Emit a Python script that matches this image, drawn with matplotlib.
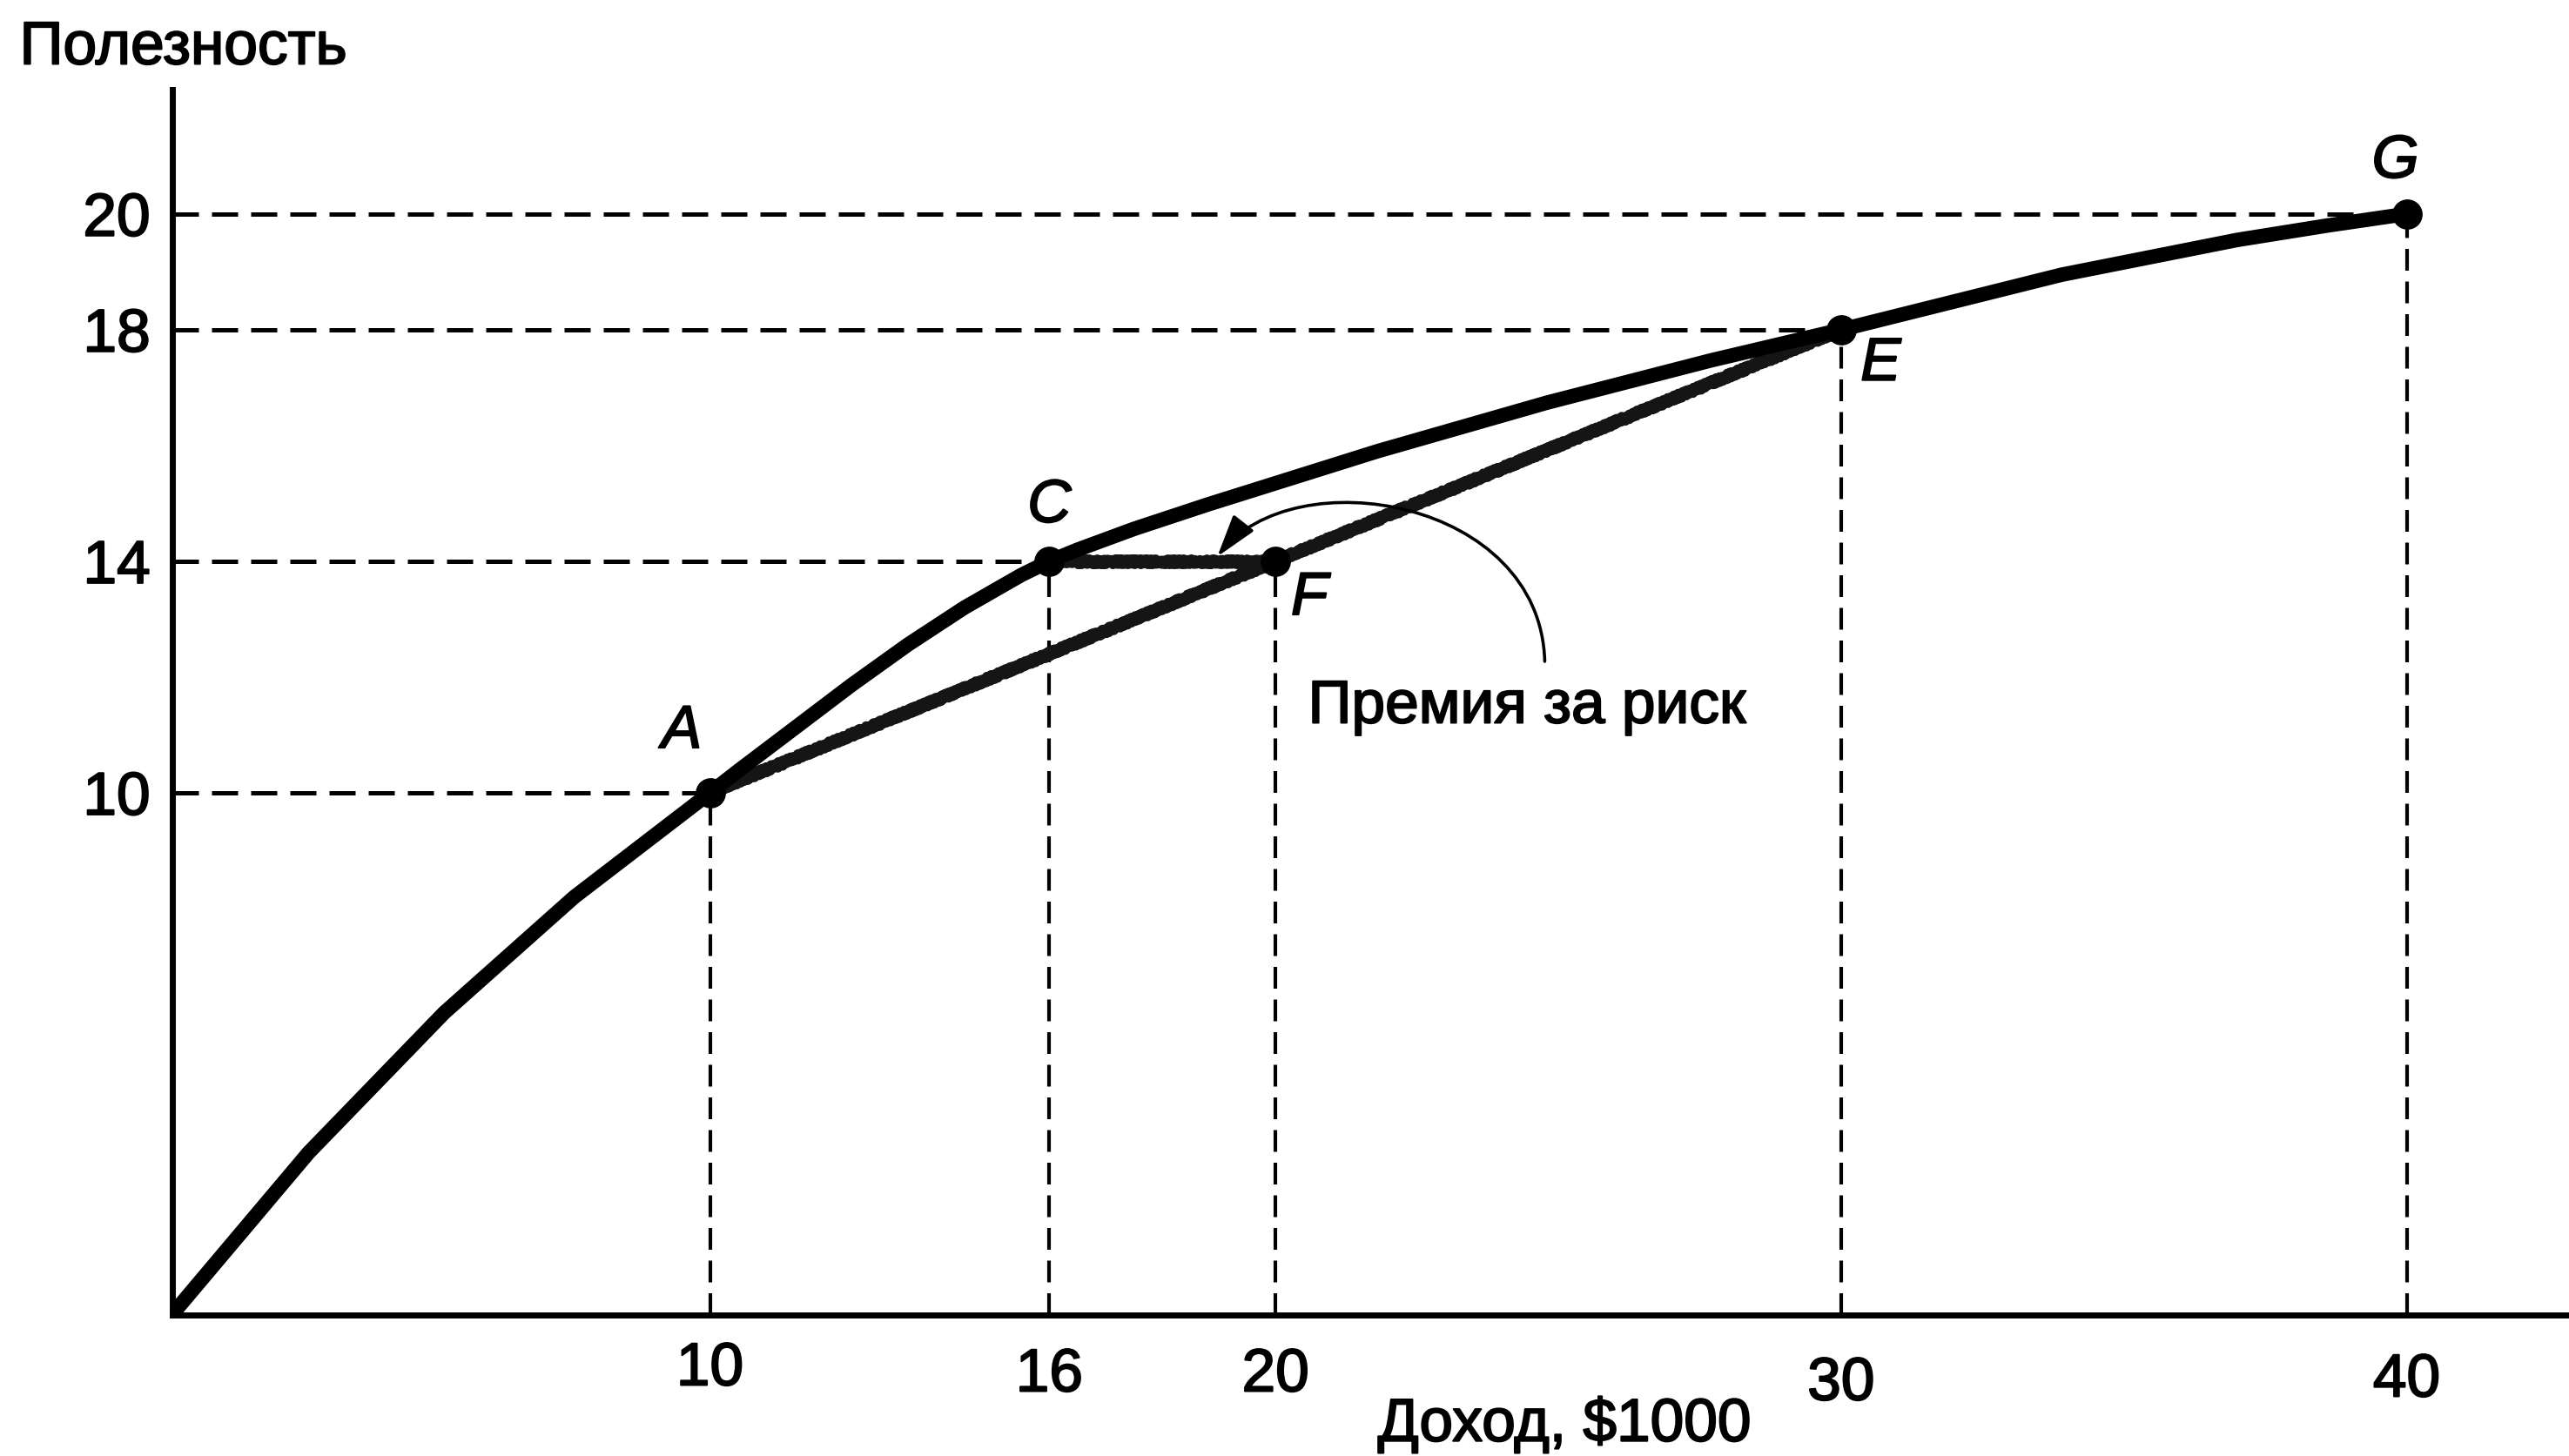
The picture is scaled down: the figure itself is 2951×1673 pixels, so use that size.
import matplotlib
matplotlib.use("Agg")
import matplotlib.pyplot as plt
import matplotlib.patheffects as pe
from matplotlib.path import Path
from matplotlib.patches import FancyArrowPatch
from matplotlib.transforms import ScaledTranslation

# utility curve (income in $1000, utility)
income = [0.5, 2.9, 5.3, 7.6, 10.0, 10.5, 11.5, 12.5, 13.5, 14.5, 15.5, 16.0,
          16.5, 17.5, 18.8, 21.8, 24.8, 27.7, 30.0, 33.9, 37.0, 38.6, 40.0]
utility = [1.0, 3.78, 6.2, 8.2, 10.0, 10.38, 11.12, 11.86, 12.56, 13.2, 13.76, 14.0,
           14.2, 14.56, 14.98, 15.9, 16.74, 17.47, 18.0, 18.95, 19.55, 19.8, 20.0]

# labelled points
point_names = ["A", "C", "E", "F", "G"]
point_x = [10, 16, 30, 20, 40]
point_y = [10, 14, 18, 14, 20]

# chord A-E and the risk premium segment C-F
chord_x = [10, 30]
chord_y = [10, 18]
premium_x = [16, 20]
premium_y = [14, 14]

x_ticks = [10, 16, 20, 30, 40]
y_ticks = [10, 14, 18, 20]

# curved pointer from the note to the C-F segment (start, 2 controls, tip)
arrow_x = [24.76, 24.68, 20.33, 18.97]
arrow_y = [12.27, 15.08, 15.78, 14.08]

FS = 50
plt.rcParams["font.family"] = ["Liberation Sans", "DejaVu Sans"]
# slightly heavier type, like the printed original
heavy = [pe.withStroke(linewidth=1.4, foreground="k")]

fig = plt.figure(figsize=(29.51, 16.74), dpi=100)
ax = fig.add_axes([0.067, 0.0968, 0.933, 0.8412])
ax.set_xlim(0.49, 42.87)
ax.set_ylim(0.98, 22.15)

for s in ["top", "right"]:
    ax.spines[s].set_visible(False)
for s in ["left", "bottom"]:
    ax.spines[s].set_linewidth(5)

dash = (0, (6, 3))
# guide lines from the points to the axes
x0, y0 = ax.get_xlim()[0], ax.get_ylim()[0]
for name, px, py in zip(point_names, point_x, point_y):
    if name != "F":
        ax.plot([x0, px], [py, py], color="k", lw=3.6, ls=dash, zorder=1)
    ax.plot([px, px], [y0, py], color="k", lw=3.0, ls=dash, zorder=1)

# chord A-E, textured look
chord, = ax.plot(chord_x, chord_y, color="#151515", lw=8, zorder=2,
                 solid_capstyle="round")
chord.set_sketch_params(3, 5, 2)
prem, = ax.plot(premium_x, premium_y, color="#151515", lw=8, zorder=2)
prem.set_sketch_params(3, 4, 2)

# utility curve
ax.plot(income, utility, color="k", lw=12, zorder=3,
        solid_capstyle="butt", solid_joinstyle="round")

ax.plot(point_x, point_y, "o", color="k", ms=24, zorder=4)

# point letters (offsets in data units)
label_off = {"A": (-0.5, 1.05), "C": (0.0, 0.95), "E": (0.7, -0.6),
             "F": (0.6, -0.65), "G": (-0.2, 0.9)}
for name, px, py in zip(point_names, point_x, point_y):
    dx, dy = label_off[name]
    ax.text(px + dx, py + dy, name, fontsize=FS, style="italic",
            ha="center", va="center", path_effects=heavy)

ax.set_xticks(x_ticks)
ax.set_yticks(y_ticks)
ax.tick_params(length=0, labelsize=FS)
ax.tick_params(axis="y", pad=18)
ax.tick_params(axis="x", pad=22)
# uneven baselines of the x tick labels in the original
x_lab_shift = [0, -7, -7, -17, -13]
for lbl, sh in zip(ax.get_xticklabels(), x_lab_shift):
    lbl.set_transform(lbl.get_transform() +
                      ScaledTranslation(0, sh / 100, fig.dpi_scale_trans))
    lbl.set_path_effects(heavy)
for lbl in ax.get_yticklabels():
    lbl.set_path_effects(heavy)

# risk premium note with curved arrow
ax.text(24.45, 11.48, "Премия за риск", fontsize=FS, ha="center",
        va="center", path_effects=heavy)
arc = Path(list(zip(arrow_x, arrow_y)),
           [Path.MOVETO, Path.CURVE4, Path.CURVE4, Path.CURVE4])
ax.add_patch(FancyArrowPatch(path=arc,
                             arrowstyle="-|>,head_length=0.75,head_width=0.23",
                             mutation_scale=40, lw=2.6, color="k",
                             shrinkA=0, shrinkB=0, zorder=5))

fig.text(12 / 1568, 1 - 30 / 889, "Полезность", fontsize=FS,
         ha="left", va="center", path_effects=heavy)
fig.text(955 / 1568, 1 - 870 / 889, "Доход, $1000", fontsize=FS,
         ha="center", va="center", path_effects=heavy)

fig.savefig("out.png", dpi=100)
